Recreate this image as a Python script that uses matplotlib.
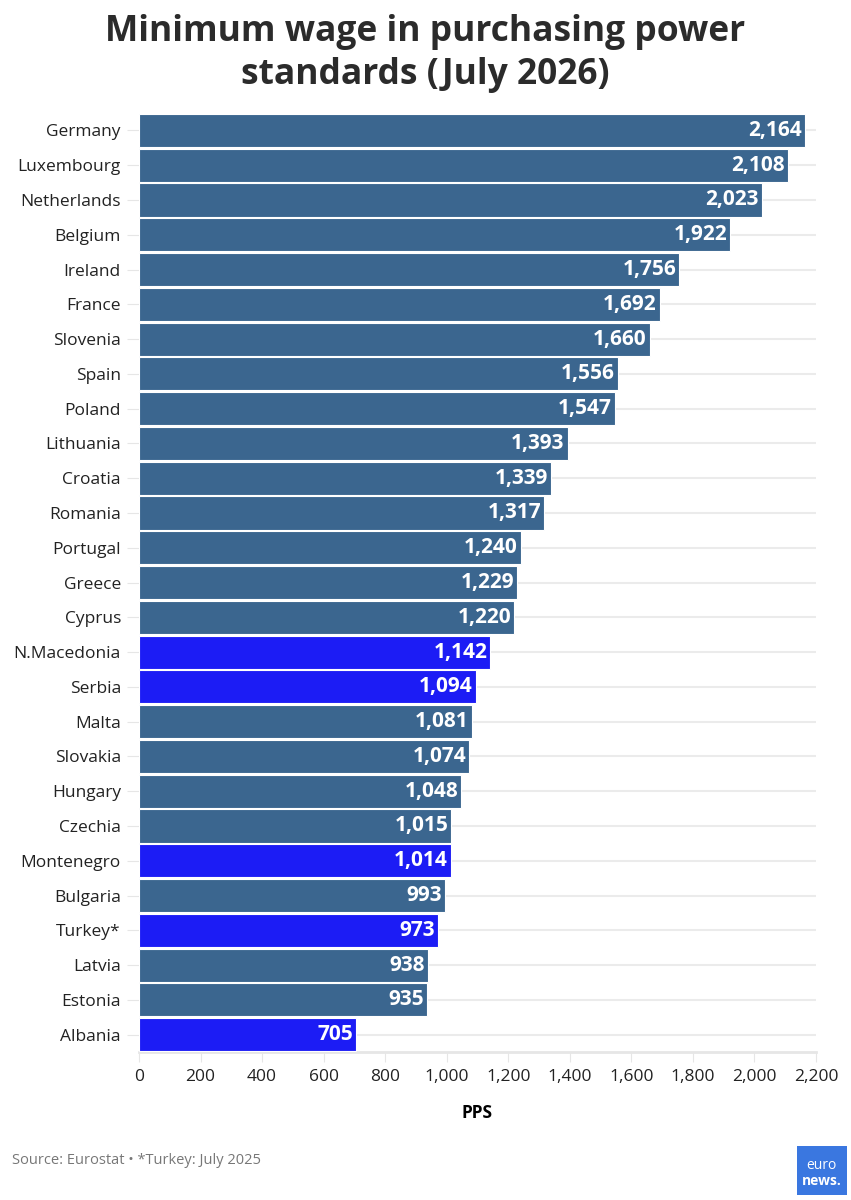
import matplotlib.pyplot as plt
from matplotlib.patches import FancyBboxPatch

plt.rcParams['font.family'] = ['Open Sans', 'DejaVu Sans']

countries = ["Germany", "Luxembourg", "Netherlands", "Belgium", "Ireland", "France",
             "Slovenia", "Spain", "Poland", "Lithuania", "Croatia", "Romania",
             "Portugal", "Greece", "Cyprus", "N.Macedonia", "Serbia", "Malta",
             "Slovakia", "Hungary", "Czechia", "Montenegro", "Bulgaria", "Turkey*",
             "Latvia", "Estonia", "Albania"]
values = [2164, 2108, 2023, 1922, 1756, 1692, 1660, 1556, 1547, 1393, 1339, 1317,
          1240, 1229, 1220, 1142, 1094, 1081, 1074, 1048, 1015, 1014, 993, 973,
          938, 935, 705]
non_eu = ["N.Macedonia", "Serbia", "Montenegro", "Turkey*", "Albania"]
xticks = list(range(0, 2201, 200))

eu_color = "#3b668f"
non_eu_color = "#1c1cf5"

fig = plt.figure(figsize=(8.51, 12), dpi=100)
ax = fig.add_axes([0.1633, 0.1233, 0.7956, 0.7825])

ypos = list(range(len(countries)))
colors = [non_eu_color if c in non_eu else eu_color for c in countries]
ax.barh(ypos, values, height=0.95, color=colors, edgecolor="white", linewidth=0.8, zorder=3)

for y, v in zip(ypos, values):
    ax.text(v - 10, y, f"{v:,}", ha="right", va="center", color="white",
            fontsize=15, fontweight="bold", zorder=4)

ax.set_ylim(len(countries) - 0.5, -0.5)
ax.set_xlim(0, 2200)
ax.set_yticks(ypos)
ax.set_yticklabels(countries, fontsize=12.5, color="#222222")
ax.set_xticks(xticks)
ax.set_xticklabels([f"{t:,}" for t in xticks], fontsize=12.5, color="#222222")
ax.tick_params(axis="y", length=9, color="#e6e6e6", pad=4)
ax.tick_params(axis="x", length=7, color="#e6e6e6", pad=5)

for y in ypos:
    ax.axhline(y, color="#ebebeb", linewidth=1.5, zorder=1)

for s in ["top", "right", "left"]:
    ax.spines[s].set_visible(False)
ax.spines["bottom"].set_color("#e6e6e6")
ax.spines["bottom"].set_linewidth(2)

ax.set_xlabel("PPS", fontsize=12.5, fontweight="bold", labelpad=14)

fig.text(0.5, 0.9885, "Minimum wage in purchasing power\nstandards (July 2026)",
         ha="center", va="top", fontsize=25.5, fontweight="bold", color="#2b2b2b",
         linespacing=1.25)

fig.text(0.014, 0.033, "Source: Eurostat \u2022 *Turkey: July 2025", ha="left", va="center",
         fontsize=10.5, color="#777777")

logo = FancyBboxPatch((0.936, 0.004), 0.059, 0.041, boxstyle="square,pad=0",
                      transform=fig.transFigure, facecolor="#3a77e0", edgecolor="none")
fig.patches.append(logo)
fig.text(0.9655, 0.0285, "euro", ha="center", va="center", color="white", fontsize=10)
fig.text(0.9655, 0.0160, "news.", ha="center", va="center", color="white", fontsize=10,
         fontweight="bold")

fig.savefig("out.png", dpi=100, facecolor="white")
